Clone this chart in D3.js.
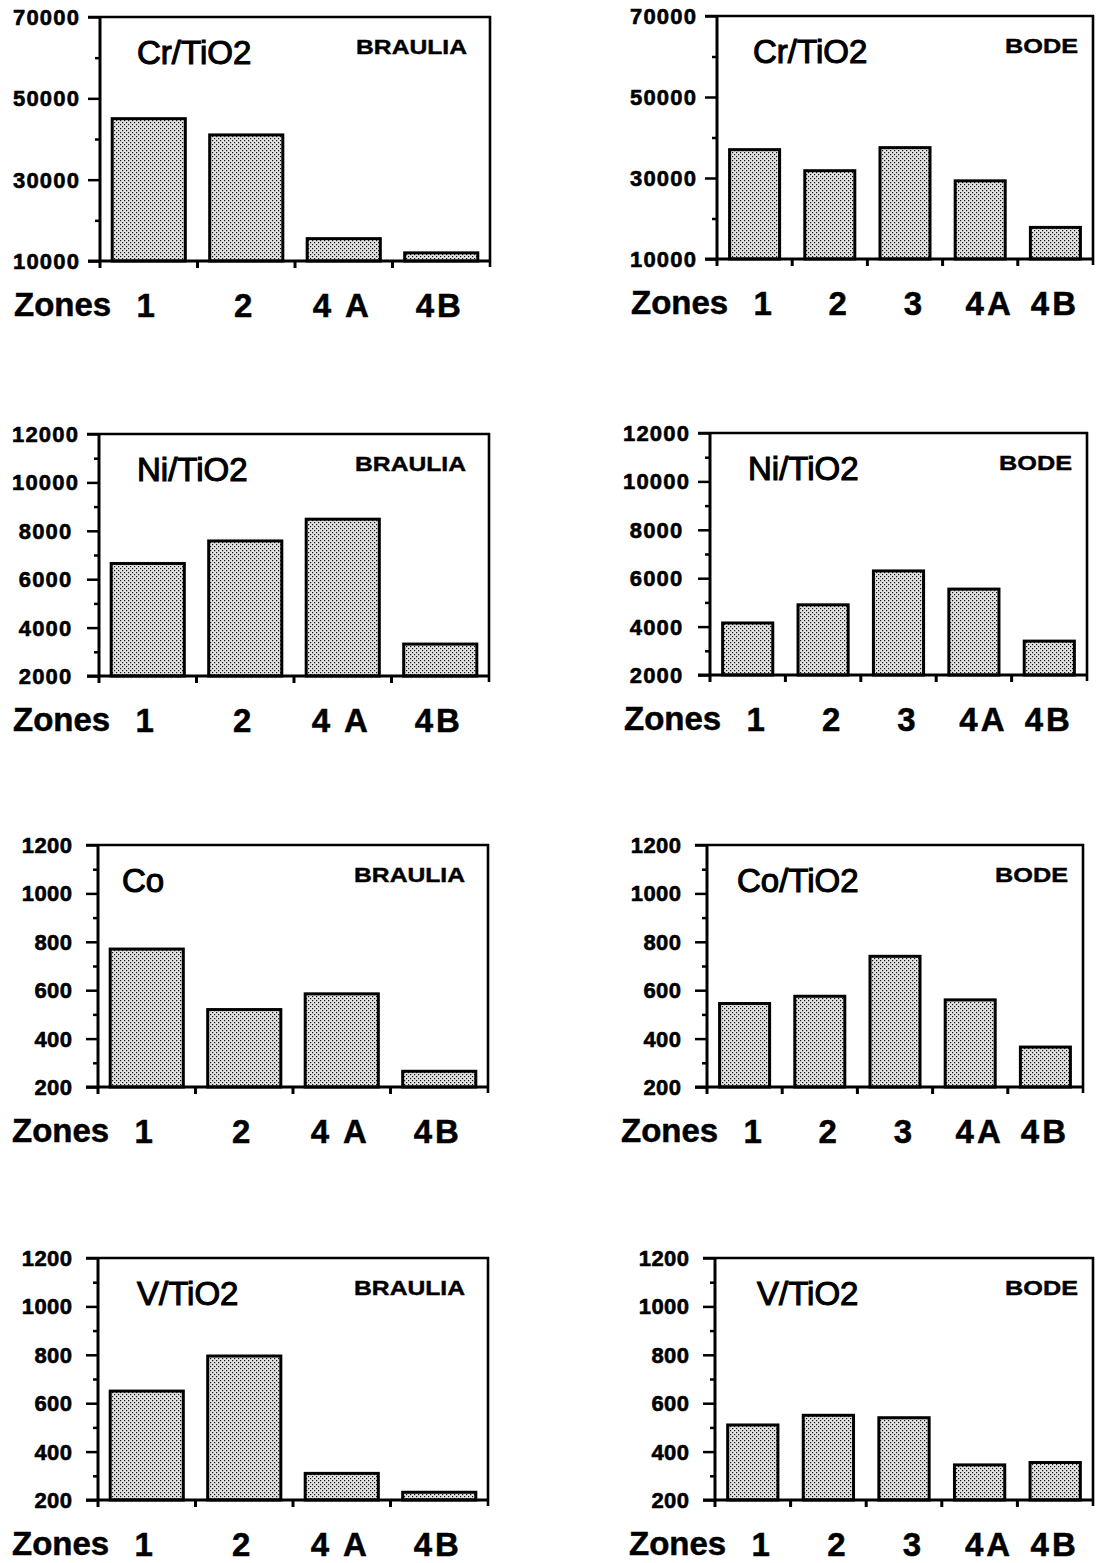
<!DOCTYPE html>
<html>
<head>
<meta charset="utf-8">
<script src="https://cdn.jsdelivr.net/npm/d3@7"></script>
<style>
  html, body { margin: 0; padding: 0; background: #fff; }
  svg { display: block; font-family: "Liberation Sans", Arial, Helvetica, sans-serif; }
</style>
</head>
<body>
<script>
// ---------- data ----------
const categoriesBraulia = ["1", "2", "4 A", "4B"];
const categoriesBode = ["1", "2", "3", "4A", "4B"];

const crBraulia = [45000, 41000, 15500, 12000];
const crBode    = [37000, 31800, 37500, 29300, 17800];
const niBraulia = [6650, 7580, 8480, 3320];
const niBode    = [4150, 4900, 6300, 5550, 3400];
const coBraulia = [770, 520, 585, 265];
const coBode    = [545, 575, 740, 560, 365];
const vBraulia  = [650, 795, 310, 232];
const vBode     = [510, 550, 540, 345, 355];

const crTicks = [10000, 30000, 50000, 70000];
const crMinor = [20000, 40000, 60000];
const niTicks = [2000, 4000, 6000, 8000, 10000, 12000];
const niMinor = [3000, 5000, 7000, 9000, 11000];
const smallTicks = [200, 400, 600, 800, 1000, 1200];
const smallMinor = [300, 500, 700, 900, 1100];

const titles = ["Cr/TiO2", "Cr/TiO2", "Ni/TiO2", "Ni/TiO2", "Co", "Co/TiO2", "V/TiO2", "V/TiO2"];
const siteBraulia = "BRAULIA";
const siteBode = "BODE";
const xAxisWord = "Zones";

// ---------- panel definitions (data references) ----------
const panels = [
  { cats: categoriesBraulia, vals: crBraulia, ticks: crTicks, minor: crMinor, title: titles[0], site: siteBraulia },
  { cats: categoriesBode,    vals: crBode,    ticks: crTicks, minor: crMinor, title: titles[1], site: siteBode },
  { cats: categoriesBraulia, vals: niBraulia, ticks: niTicks, minor: niMinor, title: titles[2], site: siteBraulia },
  { cats: categoriesBode,    vals: niBode,    ticks: niTicks, minor: niMinor, title: titles[3], site: siteBode },
  { cats: categoriesBraulia, vals: coBraulia, ticks: smallTicks, minor: smallMinor, title: titles[4], site: siteBraulia },
  { cats: categoriesBode,    vals: coBode,    ticks: smallTicks, minor: smallMinor, title: titles[5], site: siteBode },
  { cats: categoriesBraulia, vals: vBraulia,  ticks: smallTicks, minor: smallMinor, title: titles[6], site: siteBraulia },
  { cats: categoriesBode,    vals: vBode,     ticks: smallTicks, minor: smallMinor, title: titles[7], site: siteBode }
];

// ---------- layout (positions / styles) ----------
const layout = [
  { x0: 100, x1: 490, yt: 17,   yb: 261,  titleDx: 37, labelMode: "mid" },
  { x0: 717, x1: 1093, yt: 16,  yb: 259,  titleDx: 36, labelMode: "mid" },
  { x0: 99,  x1: 489, yt: 434,  yb: 676,  titleDx: 38, labelMode: "mid" },
  { x0: 710, x1: 1087, yt: 433, yb: 675,  titleDx: 38, labelMode: "mid" },
  { x0: 98,  x1: 488, yt: 845,  yb: 1087, titleDx: 24, labelMode: "end" },
  { x0: 707, x1: 1083, yt: 845, yb: 1087, titleDx: 30, labelMode: "end" },
  { x0: 98,  x1: 488, yt: 1258, yb: 1500, titleDx: 39, labelMode: "end" },
  { x0: 715, x1: 1093, yt: 1258, yb: 1500, titleDx: 42, labelMode: "end" }
];

const W = 1096, H = 1563;
const svg = d3.select("body").append("svg").attr("width", W).attr("height", H);

// dotted fill pattern
const defs = svg.append("defs");
const pat = defs.append("pattern").attr("id", "dots")
  .attr("patternUnits", "userSpaceOnUse").attr("width", 4).attr("height", 4);
pat.append("rect").attr("width", 4).attr("height", 4).attr("fill", "#e2e2e2");
pat.append("rect").attr("x", 0).attr("y", 0).attr("width", 1.2).attr("height", 1.2).attr("fill", "#111");
pat.append("rect").attr("x", 2).attr("y", 2).attr("width", 1.2).attr("height", 1.2).attr("fill", "#111");

panels.forEach((p, i) => {
  const L = layout[i];
  const isBode = p.cats.length === 5;
  const pin = isBode ? 0.335 : 0.25;
  const x = d3.scaleBand().domain(p.cats).range([L.x0, L.x1])
    .paddingInner(pin).paddingOuter(pin / 2);
  const y = d3.scaleLinear().domain([p.ticks[0], p.ticks[p.ticks.length - 1]]).range([L.yb, L.yt]);
  const g = svg.append("g");

  // bars
  g.selectAll("rect.bar").data(p.cats.map((c, k) => ({ c, v: p.vals[k] })))
    .enter().append("rect").attr("class", "bar")
    .attr("x", d => x(d.c))
    .attr("y", d => y(d.v))
    .attr("width", x.bandwidth())
    .attr("height", d => y(p.ticks[0]) - y(d.v))
    .attr("fill", "url(#dots)")
    .attr("stroke", "#000")
    .attr("stroke-width", 3);

  // y axis: major ticks
  const yAxis = d3.axisLeft(y).tickValues(p.ticks).tickSize(12).tickFormat("");
  const ga = g.append("g").attr("transform", `translate(${L.x0},0)`).call(yAxis);
  ga.select(".domain").remove();
  ga.selectAll(".tick line").attr("stroke", "#000").attr("stroke-width", 2.5);
  // minor ticks
  const yMinor = d3.axisLeft(y).tickValues(p.minor).tickSize(5).tickFormat("");
  const gm = g.append("g").attr("transform", `translate(${L.x0},0)`).call(yMinor);
  gm.select(".domain").remove();
  gm.selectAll(".tick line").attr("stroke", "#000").attr("stroke-width", 2.5);

  // frame
  const lw = 2.6;
  g.append("line").attr("x1", L.x0).attr("x2", L.x0).attr("y1", L.yt - 1).attr("y2", L.yb + 7)
    .attr("stroke", "#000").attr("stroke-width", 3);
  g.append("line").attr("x1", L.x0 - 12).attr("x2", L.x1 + 1).attr("y1", L.yt).attr("y2", L.yt)
    .attr("stroke", "#000").attr("stroke-width", lw);
  g.append("line").attr("x1", L.x0 - 12).attr("x2", L.x1 + 1).attr("y1", L.yb).attr("y2", L.yb)
    .attr("stroke", "#000").attr("stroke-width", 3);
  g.append("line").attr("x1", L.x1).attr("x2", L.x1).attr("y1", L.yt - 1).attr("y2", L.yb + 6)
    .attr("stroke", "#000").attr("stroke-width", lw);

  // category boundary ticks on x axis
  const step = x.step();
  const bounds = d3.range(1, p.cats.length).map(k => L.x0 + k * step);
  g.selectAll("line.xt").data(bounds).enter().append("line")
    .attr("x1", d => d).attr("x2", d => d)
    .attr("y1", L.yb).attr("y2", L.yb + 7)
    .attr("stroke", "#000").attr("stroke-width", 3);

  // y tick labels
  const ls = L.labelMode === "mid" ? 1.2 : 0.4;
  g.selectAll("text.yl").data(p.ticks).enter().append("text")
    .attr("x", L.labelMode === "mid" ? L.x0 - 54 + ls / 2 : L.x0 - 26 + ls)
    .attr("y", d => y(d) + 8)
    .attr("text-anchor", L.labelMode === "mid" ? "middle" : "end")
    .attr("font-size", 22).attr("font-weight", "bold")
    .attr("stroke", "#000").attr("stroke-width", 0.6)
    .attr("letter-spacing", ls)
    .text(d => d);

  // title
  g.append("text").attr("x", L.x0 + L.titleDx).attr("y", L.yt + 47)
    .attr("font-size", 33).attr("fill", "#000")
    .attr("stroke", "#000").attr("stroke-width", 1.1)
    .text(p.title);

  // site name
  const siteW = isBode ? 73 : 111;
  const siteRight = isBode ? L.x1 - 15 : L.x1 - 23;
  g.append("text").attr("x", siteRight - siteW).attr("y", L.yt + 37)
    .attr("font-size", 20).attr("font-weight", "bold")
    .attr("stroke", "#000").attr("stroke-width", 0.4)
    .attr("textLength", siteW).attr("lengthAdjust", "spacingAndGlyphs")
    .text(p.site);

  // Zones word
  g.append("text").attr("x", L.x0 - 86).attr("y", L.yb + 55)
    .attr("font-size", 33).attr("font-weight", "bold")
    .attr("stroke", "#000").attr("stroke-width", 0.5)
    .text(xAxisWord);

  // category labels
  g.selectAll("text.cl").data(p.cats).enter().append("text")
    .attr("x", (d, k) => {
      const c = x(d) + x.bandwidth() / 2;
      if (isBode) return c + (k === p.cats.length - 1 ? -2 : 8) + 1.5;
      return c - 3 + 1.5;
    })
    .attr("y", L.yb + 56)
    .attr("text-anchor", "middle")
    .attr("font-size", 33).attr("font-weight", "bold")
    .attr("stroke", "#000").attr("stroke-width", 0.5)
    .attr("letter-spacing", 3)
    .text(d => d);
});
</script>
</body>
</html>
